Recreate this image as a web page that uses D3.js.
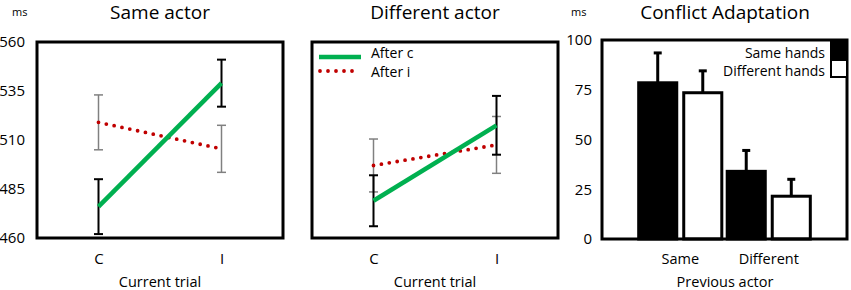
<!DOCTYPE html>
<html>
<head>
<meta charset="utf-8">
<script src="https://cdn.jsdelivr.net/npm/d3@7"></script>
<style>
  body { margin: 0; background: #fff; }
  svg { display: block; font-family: "Open Sans", sans-serif; }
</style>
</head>
<body>
<script>
// current trial conditions
const trials = ['C', 'I']
const yTicks = [460, 485, 510, 535, 560]

// Same actor panel (RT means and error half-widths, ms)
const sameAfterC = [476, 539]
const sameAfterCErr = [14, 12]
const sameAfterI = [519, 505.5]
const sameAfterIErr = [14, 12]

// Different actor panel
const diffAfterC = [479, 517.5]
const diffAfterCErr = [13, 15]
const diffAfterI = [497, 507.5]
const diffAfterIErr = [13.5, 14.5]

// Conflict adaptation
const prevActor = ['Same', 'Different']
const hands = ['Same hands', 'Different hands']
const sameHands = [78.5, 34]
const sameHandsErr = [15, 10.5]
const diffHands = [73.5, 21.5]
const diffHandsErr = [11, 8.5]
const barTicks = [0, 25, 50, 75, 100]

const W = 851, H = 290
const svg = d3.select('body').append('svg').attr('width', W).attr('height', H)

const green = '#00b050', red = '#c00000'

function linePanel(left, right, top, bottom, title, afterC, afterCErr, afterI, afterIErr, showAxis, showLegend) {
  const x = d3.scalePoint().domain(trials).range([left, right]).padding(0.5)
  const y = d3.scaleLinear().domain([460, 560]).range([bottom, top])
  const g = svg.append('g')

  // title
  g.append('text').attr('x', (left + right) / 2).attr('y', 19)
    .attr('text-anchor', 'middle').attr('font-size', 19).text(title)

  if (showAxis) {
    g.append('text').attr('x', 12).attr('y', 16).attr('font-size', 11).text('ms')
    const ax = g.append('g').attr('transform', `translate(${left},0)`)
      .call(d3.axisLeft(y).tickValues(yTicks).tickSize(0).tickPadding(12))
    ax.select('.domain').remove()
    ax.selectAll('text').attr('font-size', 15).attr('font-family', 'Open Sans')
  }

  // x labels
  const xa = g.append('g').attr('transform', `translate(0,${bottom})`)
    .call(d3.axisBottom(x).tickSize(0).tickPadding(15))
  xa.select('.domain').remove()
  xa.selectAll('text').attr('font-size', 15).attr('font-family', 'Open Sans')
  g.append('text').attr('x', (left + right) / 2).attr('y', 287)
    .attr('text-anchor', 'middle').attr('font-size', 14.5).text('Current trial')

  // frame
  g.append('rect').attr('x', left).attr('y', top).attr('width', right - left).attr('height', bottom - top)
    .attr('fill', 'none').attr('stroke', '#000').attr('stroke-width', 3)

  function errBars(vals, errs, col, w) {
    trials.forEach((t, i) => {
      const cx = x(t), y0 = y(vals[i] - errs[i]), y1 = y(vals[i] + errs[i])
      g.append('line').attr('x1', cx).attr('x2', cx).attr('y1', y0).attr('y2', y1)
        .attr('stroke', col).attr('stroke-width', w)
      ;[y0, y1].forEach(yy => g.append('line').attr('x1', cx - 4.5).attr('x2', cx + 4.5)
        .attr('y1', yy).attr('y2', yy).attr('stroke', col).attr('stroke-width', w))
    })
  }
  errBars(afterI, afterIErr, '#808080', 1.5)
  errBars(afterC, afterCErr, '#000', 2)

  const line = d3.line().x((d, i) => x(trials[i])).y(d => y(d))
  g.append('path').datum(afterI).attr('d', line).attr('fill', 'none')
    .attr('stroke', red).attr('stroke-width', 3.8).attr('stroke-linecap', 'round')
    .attr('stroke-dasharray', '0 8')
  g.append('path').datum(afterC).attr('d', line).attr('fill', 'none')
    .attr('stroke', green).attr('stroke-width', 4.5)

  if (showLegend) {
    g.append('line').attr('x1', left + 7).attr('x2', left + 49).attr('y1', 57).attr('y2', 57)
      .attr('stroke', green).attr('stroke-width', 4.5)
    g.append('line').attr('x1', left + 8).attr('x2', left + 44).attr('y1', 71).attr('y2', 71)
      .attr('stroke', red).attr('stroke-width', 3.8).attr('stroke-linecap', 'round')
      .attr('stroke-dasharray', '0 8')
    g.append('text').attr('x', left + 59).attr('y', 58).attr('font-size', 14).text('After c')
    g.append('text').attr('x', left + 59).attr('y', 77).attr('font-size', 14).text('After i')
  }
}

linePanel(37, 283, 42, 238, 'Same actor', sameAfterC, sameAfterCErr, sameAfterI, sameAfterIErr, true, false)
linePanel(312, 558, 42, 238, 'Different actor', diffAfterC, diffAfterCErr, diffAfterI, diffAfterIErr, false, true)

// bar panel
{
  const left = 602, right = 847, top = 40, bottom = 239
  const y = d3.scaleLinear().domain([0, 100]).range([bottom, top])
  const x0 = d3.scaleBand().domain(prevActor).range([left, right]).paddingInner(0).paddingOuter(0.384)
  const x1 = d3.scaleBand().domain(hands).range([0, x0.bandwidth()]).paddingInner(0.155).paddingOuter(0.06)
  const g = svg.append('g')

  g.append('text').attr('x', 725).attr('y', 19).attr('text-anchor', 'middle').attr('font-size', 19)
    .text('Conflict Adaptation')
  g.append('text').attr('x', 571).attr('y', 16).attr('font-size', 11).text('ms')

  const ax = g.append('g').attr('transform', `translate(${left},0)`)
    .call(d3.axisLeft(y).tickValues(barTicks).tickSize(0).tickPadding(10))
  ax.select('.domain').remove()
  ax.selectAll('text').attr('font-size', 15).attr('font-family', 'Open Sans')

  const xa = g.append('g').attr('transform', `translate(0,${bottom})`)
    .call(d3.axisBottom(x0).tickSize(0).tickPadding(15))
  xa.select('.domain').remove()
  xa.selectAll('text').attr('font-size', 14.5).attr('font-family', 'Open Sans')
  g.append('text').attr('x', 725).attr('y', 287).attr('text-anchor', 'middle').attr('font-size', 14.5)
    .text('Previous actor')

  const series = [
    { key: hands[0], vals: sameHands, errs: sameHandsErr, fill: '#000' },
    { key: hands[1], vals: diffHands, errs: diffHandsErr, fill: '#fff' }
  ]
  series.forEach(s => {
    prevActor.forEach((a, i) => {
      const bx = x0(a) + x1(s.key), bw = x1.bandwidth()
      const cx = bx + bw / 2
      const yTop = y(s.vals[i]), yErr = y(s.vals[i] + s.errs[i])
      g.append('line').attr('x1', cx).attr('x2', cx).attr('y1', yTop).attr('y2', yErr)
        .attr('stroke', '#000').attr('stroke-width', 3)
      g.append('line').attr('x1', cx - 4).attr('x2', cx + 4).attr('y1', yErr).attr('y2', yErr)
        .attr('stroke', '#000').attr('stroke-width', 3)
      g.append('rect').attr('x', bx).attr('y', yTop).attr('width', bw).attr('height', bottom - yTop)
        .attr('fill', s.fill).attr('stroke', '#000').attr('stroke-width', 3)
    })
  })

  g.append('rect').attr('x', left).attr('y', top).attr('width', right - left).attr('height', bottom - top)
    .attr('fill', 'none').attr('stroke', '#000').attr('stroke-width', 3)

  // legend
  series.forEach((s, i) => {
    g.append('rect').attr('x', 831).attr('y', 41 + i * 19).attr('width', 16).attr('height', 17)
      .attr('fill', s.fill).attr('stroke', '#000').attr('stroke-width', 2)
    g.append('text').attr('x', 825).attr('y', 58 + i * 18).attr('text-anchor', 'end')
      .attr('font-size', 14).text(s.key)
  })
}
</script>
</body>
</html>
